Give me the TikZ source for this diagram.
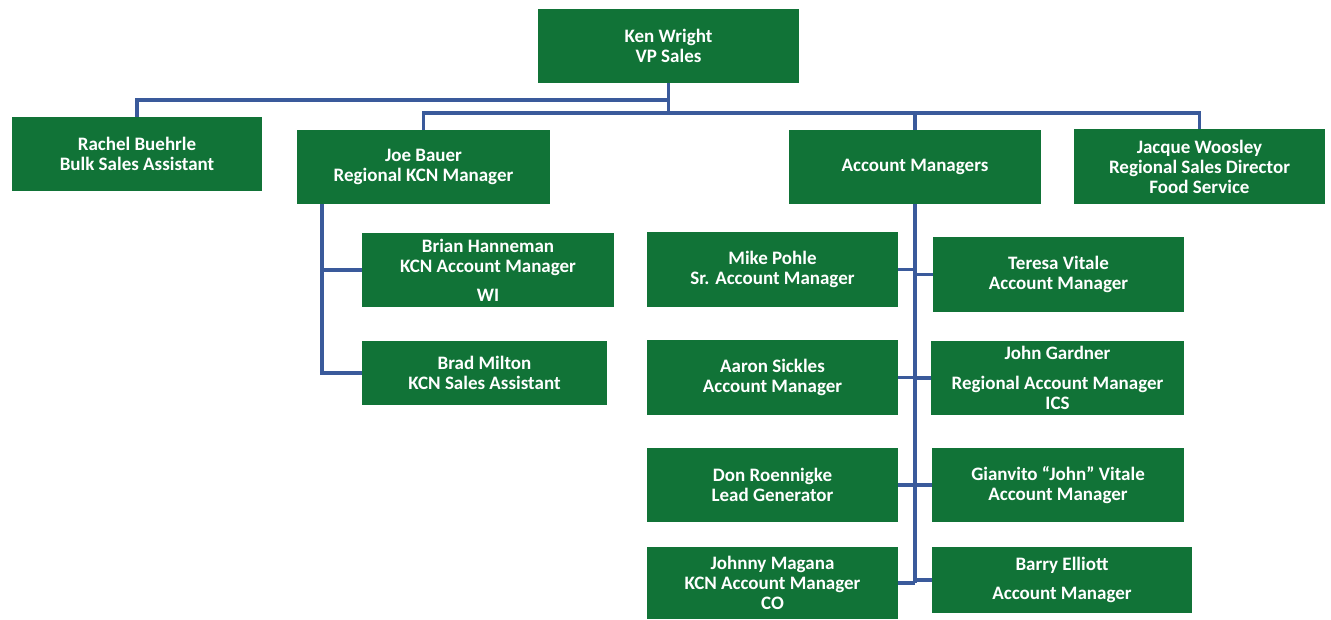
\documentclass[tikz,border=0pt]{standalone}
\usepackage{fontspec}
\setmainfont{Carlito}
\definecolor{boxgreen}{RGB}{17,115,55}
\definecolor{linkblue}{RGB}{58,90,155}
\tikzset{
  box/.style={fill=boxgreen, draw=none, text=white, inner sep=0pt, outer sep=0pt,
    align=center, font=\bfseries\fontsize{19}{20}\selectfont},
  conn/.style={draw=linkblue, line width=3.2pt},
}
\begin{document}
\begin{tikzpicture}[x=1pt,y=-1pt]
\useasboundingbox[fill=white] (0,0) rectangle (1331,619);
% top
\node[box, minimum width=261, minimum height=74] (ken) at (668.5,46) {Ken Wright\\VP Sales};
% second level
\node[box, minimum width=250, minimum height=74] (rachel) at (137,154) {Rachel Buehrle\\Bulk Sales Assistant};
\node[box, minimum width=253, minimum height=74] (joe) at (423.5,167) {Joe Bauer\\Regional KCN Manager};
\node[box, minimum width=252, minimum height=74] (am) at (915,167) {Account Managers};
\node[box, minimum width=251, minimum height=75] (jacque) at (1199.5,166.5) {Jacque Woosley\\Regional Sales Director\\Food Service};
% Joe's reports
\node[box, minimum width=252, minimum height=74] (brian) at (488,270) {Brian Hanneman\\KCN Account Manager\\[9pt]WI};
\node[box, minimum width=245, minimum height=64] (brad) at (484.5,373) {Brad Milton\\KCN Sales Assistant};
% account managers
\node[box, minimum width=251, minimum height=75] (mike) at (772.5,269.5) {Mike Pohle\\Sr. Account Manager};
\node[box, minimum width=251, minimum height=75] (teresa) at (1058.5,274.5) {Teresa Vitale\\Account Manager};
\node[box, minimum width=251, minimum height=75] (aaron) at (772.5,377.5) {Aaron Sickles\\Account Manager};
\node[box, minimum width=253, minimum height=74] (johng) at (1057.5,378) {John Gardner\\[10pt]Regional Account Manager\\ICS};
\node[box, minimum width=251, minimum height=74] (don) at (772.5,485) {Don Roennigke\\Lead Generator};
\node[box, minimum width=252, minimum height=74] (gianvito) at (1058,485) {Gianvito “John” Vitale\\Account Manager};
\node[box, minimum width=251, minimum height=72] (johnny) at (772.5,583) {Johnny Magana\\KCN Account Manager\\CO};
\node[box, minimum width=260, minimum height=66] (barry) at (1062,580) {Barry Elliott\\[9pt]Account Manager};
% bus coordinates
\coordinate (busA) at (0,100);
\coordinate (busB) at (0,113);
\coordinate (jtrunk) at (322,204);
% connectors from Ken
\draw[conn] (ken.south) -- (ken.south |- busB);
\draw[conn] (rachel.north) |- (ken.south |- busA);
\draw[conn] (joe.north) |- (ken.south |- busB);
\draw[conn] (jacque.north) |- (ken.south |- busB);
\draw[conn] (am.north) -- (am.north |- busB);
% Joe's subtree
\draw[conn] (jtrunk) |- (brad.west);
\draw[conn] (jtrunk |- brian.west) -- (brian.west);
% Account managers subtree
\draw[conn] (am.south) -- (am.south |- johnny.east);
\draw[conn] (mike.east) -- (mike.east -| am.south);
\draw[conn] (teresa.west) -- (teresa.west -| am.south);
\draw[conn] (aaron.east) -- (aaron.east -| am.south);
\draw[conn] (johng.west) -- (johng.west -| am.south);
\draw[conn] (don.east) -- (don.east -| am.south);
\draw[conn] (gianvito.west) -- (gianvito.west -| am.south);
\draw[conn] (johnny.east) -- (johnny.east -| am.south);
\draw[conn] (barry.west) -- (barry.west -| am.south);
\end{tikzpicture}
\end{document}
